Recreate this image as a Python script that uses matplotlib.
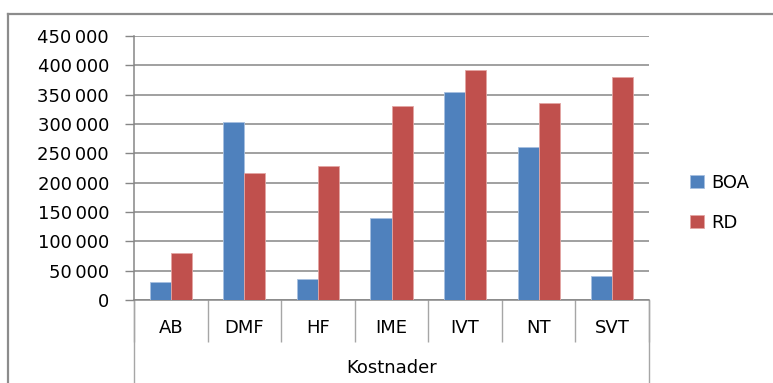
import matplotlib
matplotlib.use("Agg")
import matplotlib.pyplot as plt
import matplotlib.transforms as mtransforms
from matplotlib.lines import Line2D
import numpy as np

categories = ["AB", "DMF", "HF", "IME", "IVT", "NT", "SVT"]
boa = [31000, 304000, 36000, 139000, 355000, 260000, 41000]
rd = [80000, 217000, 229000, 330000, 392000, 336000, 380000]
series_names = ["BOA", "RD"]
group_label = "Kostnader"
y_ticks = list(range(0, 450001, 50000))

BLUE = "#4F81BD"
RED = "#C0504D"
GRAY = "#868686"
FONT = "DejaVu Sans"

W, H = 773, 383
fig = plt.figure(figsize=(W / 100, H / 100), dpi=100)
plt.rcParams["font.family"] = FONT


def fx(px):
    return px / W


def fy(py):
    return 1 - py / H


# chart frame (right and bottom edges are cut off in the reference)
fig.add_artist(Line2D([fx(8), 1], [fy(14), fy(14)], color="#8c8c8c", lw=1.6))
fig.add_artist(Line2D([fx(8), fx(8)], [fy(14), 0], color="#8c8c8c", lw=1.6))

ax = fig.add_axes([fx(134), fy(300), fx(649) - fx(134), fy(36) - fy(300)])

x = np.arange(len(categories))
bw = 2 / 7
ax.bar(x - bw / 2, boa, bw, color=BLUE, edgecolor="#a7c0e0", linewidth=0.6,
       label=series_names[0], zorder=3)
ax.bar(x + bw / 2, rd, bw, color=RED, edgecolor="#e3a5a3", linewidth=0.6,
       label=series_names[1], zorder=3)

ax.set_xlim(-0.5, len(categories) - 0.5)
ax.set_ylim(0, 450000)
ax.set_yticks(y_ticks)
ax.set_yticklabels([f"{v:,}".replace(",", "\u2009") for v in y_ticks],
                   fontsize=13, color="black")
ax.yaxis.grid(True, color=GRAY, lw=1.1, zorder=0)
ax.set_axisbelow(True)
ax.tick_params(axis="y", length=6.5, width=1, color=GRAY, pad=11.5)

# category boundaries as long outward ticks
ax.set_xticks(np.arange(-0.5, len(categories)))
ax.set_xticklabels([])
ax.tick_params(axis="x", length=30, width=1, color="#a6a6a6")

for s in ["top", "right"]:
    ax.spines[s].set_visible(False)
for s in ["left", "bottom"]:
    ax.spines[s].set_color(GRAY)
    ax.spines[s].set_linewidth(1.1)

trans = mtransforms.blended_transform_factory(ax.transData, ax.transAxes)
for i, c in enumerate(categories):
    ax.text(i, -0.106, c, transform=trans, ha="center", va="center",
            fontsize=13)
ax.text((len(categories) - 1) / 2, -0.258, group_label, transform=trans,
        ha="center", va="center", fontsize=13)
for xe in [-0.5, len(categories) - 0.5]:
    ax.add_line(Line2D([xe, xe], [0, -0.4], transform=trans, color="#a6a6a6",
                       lw=1, clip_on=False))

ax.legend(loc="center left", bbox_to_anchor=(fx(674), fy(203)),
          bbox_transform=fig.transFigure, frameon=False, fontsize=13,
          handlelength=0.75, handleheight=0.75, handletextpad=0.4,
          labelspacing=1.2)

fig.savefig("out.png", dpi=100)
